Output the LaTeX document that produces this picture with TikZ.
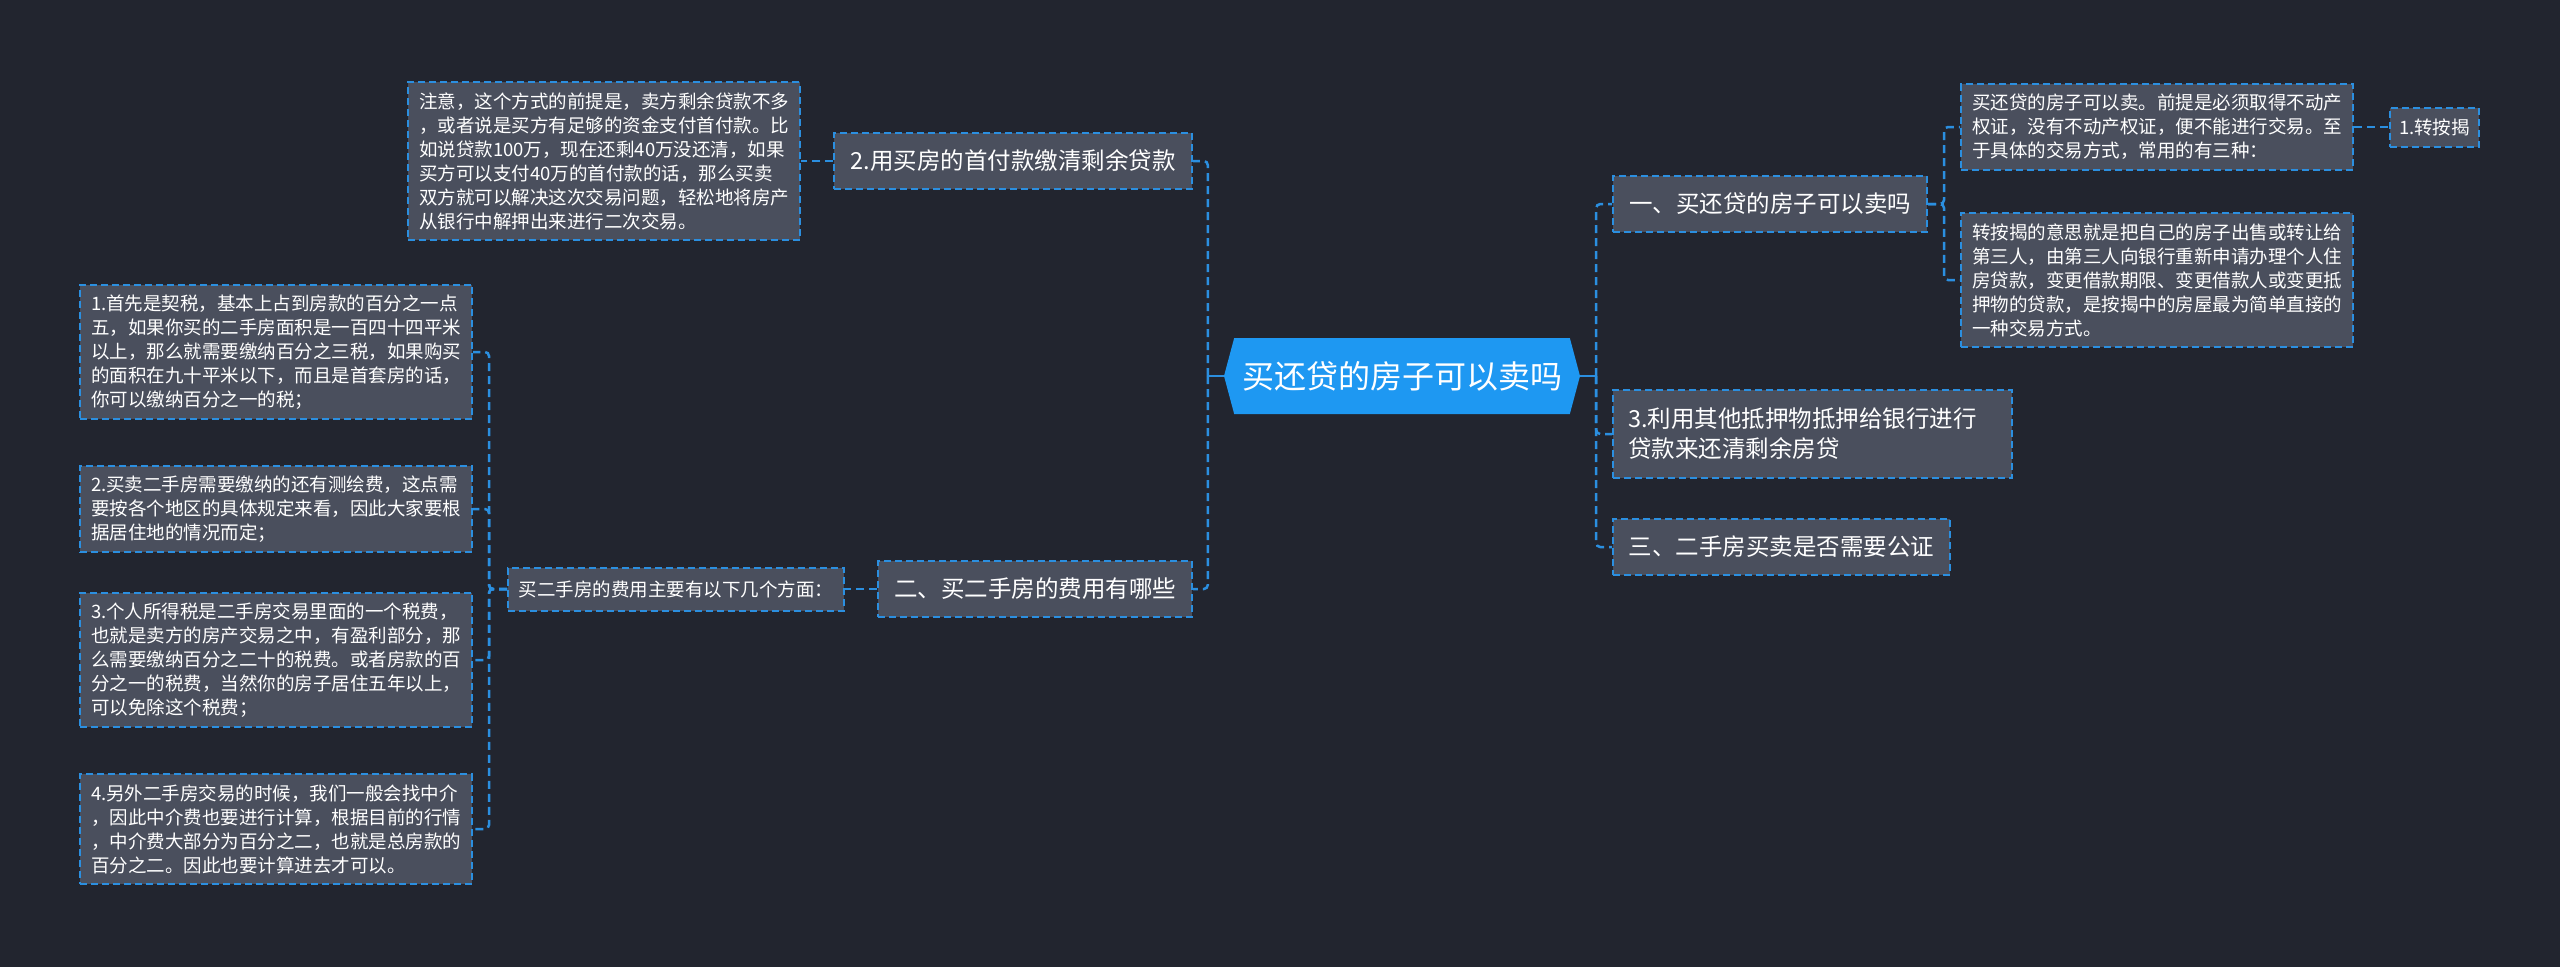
\documentclass[tikz,border=0pt]{standalone}
\usepackage{fontspec}
\setmainfont{Noto Sans CJK SC}
\usetikzlibrary{shapes.symbols}
\definecolor{bgnavy}{HTML}{22252F}
\definecolor{boxgray}{HTML}{4A4F5D}
\definecolor{linkblue}{HTML}{2B8FE0}
\definecolor{rootblue}{HTML}{1E98F2}

\begin{document}
\begin{tikzpicture}[
    x=1pt, y=-1pt,
    box/.style={draw=linkblue, line width=2pt, dash pattern=on 7pt off 4pt, fill=boxgray, text=white},
    topic/.style={box, font=\fontsize{23.5}{30}\selectfont, minimum height=56pt, inner xsep=14pt},
    note/.style={box, font=\fontsize{18.5}{24}\selectfont, text width=370pt, align=left, inner xsep=11pt, inner ysep=10pt},
    rootnode/.style={signal, signal to=west and east, signal pointer angle=150, fill=rootblue, text=white,
      font=\fontsize{32}{38}\selectfont, minimum width=356pt, minimum height=76pt, inner xsep=0pt},
    link/.style={draw=linkblue, line width=2.5pt, dash pattern=on 8pt off 5pt, rounded corners=4pt},
    stub/.style={draw=linkblue, line width=2.5pt}
  ]
    % 背景
    \fill[bgnavy] (0,0) rectangle (2560,967);
    \useasboundingbox (0,0) rectangle (2560,967);
    % 中心主题
    \node[rootnode] (root) at (1402,376) {买还贷的房子可以卖吗};
    \coordinate (lbus) at ([xshift=-16pt]root.west);
    \coordinate (rbus) at ([xshift=16pt]root.east);
    % 左侧分支
    \node[topic, minimum width=358pt] (b2) at (1013,161) {2.用买房的首付款缴清剩余贷款};
    \node[note] (n2) at (604,161) {注意，这个方式的前提是，卖方剩余贷款不多\\
      ，或者说是买方有足够的资金支付首付款。比\\
      如说贷款100万，现在还剩40万没还清，如果\\
      买方可以支付40万的首付款的话，那么买卖\\
      双方就可以解决这次交易问题，轻松地将房产\\
      从银行中解押出来进行二次交易。};
    \node[topic, minimum width=314pt] (b3) at (1035,589) {二、买二手房的费用有哪些};
    \node[box, font=\fontsize{18.5}{24}\selectfont, minimum width=336pt, minimum height=43pt] (fees) at (676,589) {买二手房的费用主要有以下几个方面：};
    % 费用明细
    \node[note] (f1) at (276,352) {1.首先是契税，基本上占到房款的百分之一点\\
      五，如果你买的二手房面积是一百四十四平米\\
      以上，那么就需要缴纳百分之三税，如果购买\\
      的面积在九十平米以下，而且是首套房的话，\\
      你可以缴纳百分之一的税；};
    \node[note] (f2) at (276,509) {2.买卖二手房需要缴纳的还有测绘费，这点需\\
      要按各个地区的具体规定来看，因此大家要根\\
      据居住地的情况而定；};
    \node[note] (f3) at (276,660) {3.个人所得税是二手房交易里面的一个税费，\\
      也就是卖方的房产交易之中，有盈利部分，那\\
      么需要缴纳百分之二十的税费。或者房款的百\\
      分之一的税费，当然你的房子居住五年以上，\\
      可以免除这个税费；};
    \node[note] (f4) at (276,829) {4.另外二手房交易的时候，我们一般会找中介\\
      ，因此中介费也要进行计算，根据目前的行情\\
      ，中介费大部分为百分之二，也就是总房款的\\
      百分之二。因此也要计算进去才可以。};
    % 右侧分支
    \node[topic, minimum width=314pt] (r1) at (1770,204) {一、买还贷的房子可以卖吗};
    \node[note] (s1) at (2157,127) {买还贷的房子可以卖。前提是必须取得不动产\\
      权证，没有不动产权证，便不能进行交易。至\\
      于具体的交易方式，常用的有三种：};
    \node[box, font=\fontsize{18.5}{24}\selectfont, minimum width=89pt, minimum height=39pt, inner xsep=6pt] (mort) at (2434.5,127) {1.转按揭};
    \node[note] (s2) at (2157,280) {转按揭的意思就是把自己的房子出售或转让给\\
      第三人，由第三人向银行重新申请办理个人住\\
      房贷款，变更借款期限、变更借款人或变更抵\\
      押物的贷款，是按揭中的房屋最为简单直接的\\
      一种交易方式。};
    \node[topic, text width=369pt, align=left, inner xsep=15pt, minimum height=88pt] (r2) at (1812.5,434) {3.利用其他抵押物抵押给银行进行\\贷款来还清剩余房贷};
    \node[topic, minimum width=337pt] (r3) at (1781.5,547) {三、二手房买卖是否需要公证};
    % 连线
    \draw[stub] (root.west) -- (lbus);
    \draw[stub] (root.east) -- (rbus);
    \draw[link] (lbus) |- (b2.east);
    \draw[link] (lbus) |- (b3.east);
    \draw[link] (rbus) |- (r1.west);
    \draw[link] (rbus) |- (r2.west);
    \draw[link] (rbus) |- (r3.west);
    \draw[link] (b2.west) -- (b2.west -| n2.east);
    \draw[link] (b3.west) -- (b3.west -| fees.east);
    \foreach \f in {f1,f2,f3,f4}
      \draw[link] (fees.west) -- ++(-18,0) |- (\f.east);
    \draw[link] (r1.east) -- ++(16,0) |- (s1.west);
    \draw[link] (r1.east) -- ++(16,0) |- (s2.west);
    \draw[link] (s1.east) -- (mort.west);
  \end{tikzpicture}
\end{document}
